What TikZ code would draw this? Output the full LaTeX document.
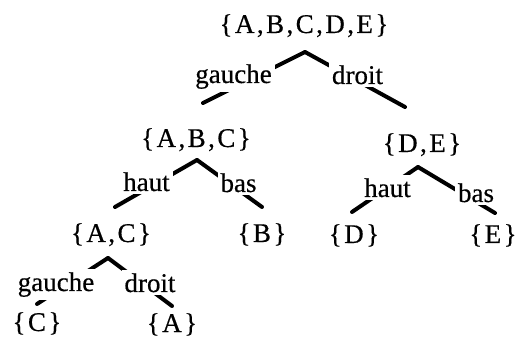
\documentclass[tikz,border=0pt]{standalone}
\usepackage{fontspec}
\setmainfont[FakeBold=0.5]{Liberation Serif}
\newfontfamily\ensfont[LetterSpace=9,FakeBold=0.5]{Liberation Serif}
\tikzset{
  ens/.style={font=\ensfont\fontsize{20.25}{24}\selectfont, inner sep=0pt, anchor=base},
  lbl/.style={font=\fontsize{20.25}{24}\selectfont, fill=white, inner sep=2.25pt, anchor=base},
  edge/.style={draw=black, line width=3pt, line cap=round, line join=miter}
}

\begin{document}
\begin{tikzpicture}[x=0.75pt,y=-0.75pt]
  \useasboundingbox (0,0) rectangle (520,348);
  % sets
  \node[ens] (abcde) at (304,33) {\{A,B,C,D,E\}};
  \node[ens] (abc) at (196,147) {\{A,B,C\}};
  \node[ens] (de) at (422,152) {\{D,E\}};
  \node[ens] (ac) at (111,242) {\{A,C\}};
  \node[ens] (b) at (262,242) {\{B\}};
  \node[ens] (d) at (354,243) {\{D\}};
  \node[ens] (e) at (493,243) {\{E\}};
  \node[ens] (c) at (37,331) {\{C\}};
  \node[ens] (a) at (172,332) {\{A\}};
  % tops of the branches
  \coordinate (abcde-v) at (305,52);
  \coordinate (abc-v) at (197,160);
  \coordinate (de-v) at (418,167);
  \coordinate (ac-v) at (108,258);
  % ends above the children
  \coordinate (abc-e) at (203,103);
  \coordinate (de-e) at (405,107);
  \coordinate (ac-e) at (115,207);
  \coordinate (b-e) at (262,207);
  \coordinate (d-e) at (352,212);
  \coordinate (e-e) at (495,213);
  \coordinate (c-e) at (37,304);
  \coordinate (a-e) at (172,306);
  \foreach \p/\q in {abcde/abc, abcde/de, abc/ac, abc/b, de/d, de/e, ac/c, ac/a}
    \draw[edge] (\p-v) -- (\q-e);
  % branch labels
  \node[lbl] (g1) at (233.5,83) {gauche};
  \node[lbl] (d1) at (357.5,84) {droit};
  \node[lbl] (h1) at (146.5,191) {haut};
  \node[lbl] (b1) at (238.5,192) {bas};
  \node[lbl] (h2) at (387.5,197) {haut};
  \node[lbl] (b2) at (476,202) {bas};
  \node[lbl] (g2) at (56,291) {gauche};
  \node[lbl] (d2) at (150,292) {droit};
\end{tikzpicture}
\end{document}
